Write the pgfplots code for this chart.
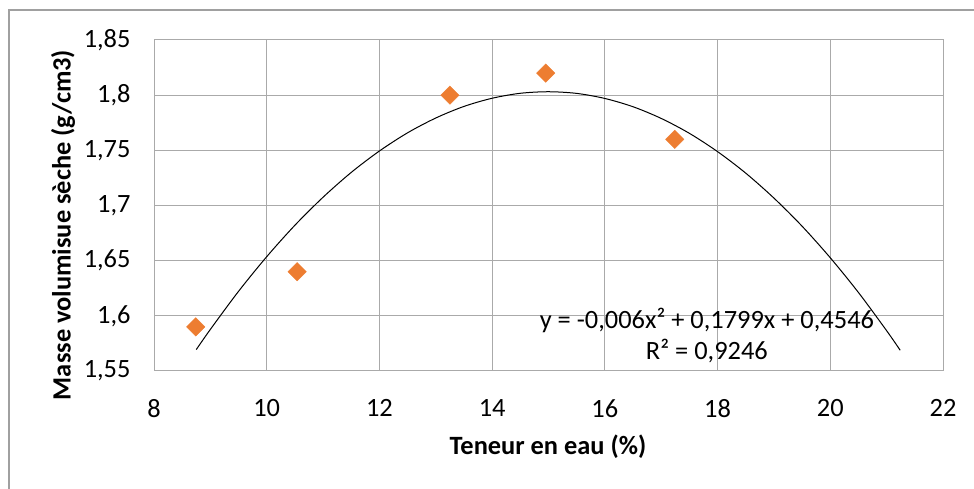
\documentclass[border=0pt]{standalone}
\usepackage{pgfplots}
\pgfplotsset{compat=1.18}
\usepackage{fontspec}
\setmainfont{Carlito}

\definecolor{gridgray}{RGB}{170,170,170}
\definecolor{framegray}{RGB}{160,160,160}
\definecolor{markorange}{RGB}{237,125,49}

\begin{document}
\begin{tikzpicture}[x=1bp,y=1bp]
  % page extent and the chart frame (left and top edges)
  \useasboundingbox (0,0) rectangle (974,489);
  \draw[framegray, line width=1.2bp] (9,-2) -- (9,479) -- (976,479);

  \begin{axis}[
    at={(154bp,118bp)}, anchor=south west,
    scale only axis,
    width=789bp, height=331bp,
    xmin=8, xmax=22, ymin=1.55, ymax=1.85,
    xtick={8,10,...,22},
    ytick={1.55,1.6,1.65,1.7,1.75,1.8,1.85},
    grid=major,
    major grid style={gridgray, line width=1bp},
    axis line style={gridgray, line width=1bp},
    tick style={draw=none},
    /pgf/number format/use comma,
    /pgf/number format/assume math mode=true,
    ticklabel style={font=\fontsize{26.5}{30}\selectfont, text=black},
    yticklabel style={xshift=-20bp},
    xticklabel style={yshift=-25bp},
    clip=false,
  ]
    % polynomial trend line, order 2
    \addplot[black, line width=1bp, smooth] coordinates {
      (8.75,1.5694) (9,1.5877) (9.5,1.6222) (10,1.6536) (10.5,1.6821)
      (11,1.7075) (11.5,1.7300) (12,1.7494) (12.5,1.7659) (13,1.7793)
      (13.5,1.7898) (14,1.7972) (14.5,1.8017) (15,1.8031) (15.5,1.8016)
      (16,1.7970) (16.5,1.7895) (17,1.7789) (17.5,1.7654) (18,1.7488)
      (18.5,1.7293) (19,1.7067) (19.5,1.6812) (20,1.6526) (20.5,1.6211)
      (21,1.5865) (21.24,1.5688)
    };
    % measured points
    \addplot[only marks, mark=square*, mark size=6.5bp,
             mark options={rotate=45, fill=markorange, draw=markorange}]
      coordinates {
      (8.74,1.59) (10.54,1.64) (13.25,1.80) (14.95,1.82) (17.24,1.76)
    };
    \node[align=center, font=\fontsize{26.5}{31}\selectfont, inner sep=0pt]
      at (axis cs:17.81,1.582)
      {y = -0,006x² + 0,1799x + 0,4546\\R² = 0,9246};
  \end{axis}

  % axis titles
  \node[font=\fontsize{26.5}{30}\selectfont\bfseries, rotate=90]
    at (63,264) {Masse volumisue sèche (g/cm3)};
  \node[font=\fontsize{26.5}{30}\selectfont\bfseries]
    at (548,42) {Teneur en eau (\%)};
\end{tikzpicture}
\end{document}
